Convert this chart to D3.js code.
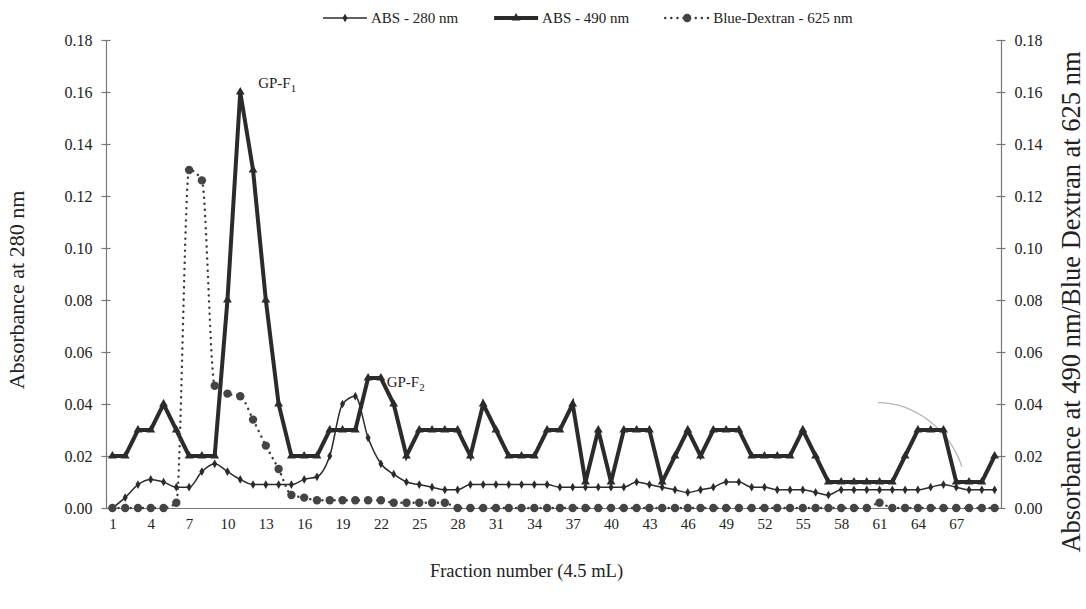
<!DOCTYPE html>
<html>
<head>
<meta charset="utf-8">
<script src="https://cdn.jsdelivr.net/npm/d3@7"></script>
<style>
  body { margin: 0; background: #fff; }
  svg { display: block; font-family: "Liberation Serif", "Times New Roman", serif; }
</style>
</head>
<body>
<svg id="chart" width="1086" height="609"></svg>
<script>
// Gel filtration profile, fractions of 4.5 mL
const fractions = d3.range(1, 71);
const xTickLabels = [1, 4, 7, 10, 13, 16, 19, 22, 25, 28, 31, 34, 37, 40, 43, 46, 49, 52, 55, 58, 61, 64, 67];
const yTicks = [0, 0.02, 0.04, 0.06, 0.08, 0.10, 0.12, 0.14, 0.16, 0.18];

const abs280 = [
    0.000, 0.004, 0.009, 0.011, 0.010, 0.008, 0.008, 0.014, 0.017, 0.014,
    0.011, 0.009, 0.009, 0.009, 0.009, 0.011, 0.012, 0.020, 0.040, 0.043,
    0.027, 0.017, 0.013, 0.010, 0.009, 0.008, 0.007, 0.007, 0.009, 0.009,
    0.009, 0.009, 0.009, 0.009, 0.009, 0.008, 0.008, 0.008, 0.008, 0.008,
    0.008, 0.010, 0.009, 0.008, 0.007, 0.006, 0.007, 0.008, 0.010, 0.010,
    0.008, 0.008, 0.007, 0.007, 0.007, 0.006, 0.005, 0.007, 0.007, 0.007,
    0.007, 0.007, 0.007, 0.007, 0.008, 0.009, 0.008, 0.007, 0.007, 0.007
];
const abs490 = [
    0.02, 0.02, 0.03, 0.03, 0.04, 0.03, 0.02, 0.02, 0.02, 0.08,
    0.16, 0.13, 0.08, 0.04, 0.02, 0.02, 0.02, 0.03, 0.03, 0.03,
    0.05, 0.05, 0.04, 0.02, 0.03, 0.03, 0.03, 0.03, 0.02, 0.04,
    0.03, 0.02, 0.02, 0.02, 0.03, 0.03, 0.04, 0.01, 0.03, 0.01,
    0.03, 0.03, 0.03, 0.01, 0.02, 0.03, 0.02, 0.03, 0.03, 0.03,
    0.02, 0.02, 0.02, 0.02, 0.03, 0.02, 0.01, 0.01, 0.01, 0.01,
    0.01, 0.01, 0.02, 0.03, 0.03, 0.03, 0.01, 0.01, 0.01, 0.02
];
const blueDextran = [
    0.000, 0.000, 0.000, 0.000, 0.000, 0.002, 0.130, 0.126, 0.047, 0.044,
    0.043, 0.034, 0.024, 0.015, 0.005, 0.004, 0.003, 0.003, 0.003, 0.003,
    0.003, 0.003, 0.002, 0.002, 0.002, 0.002, 0.002, 0.000, 0.000, 0.000,
    0.000, 0.000, 0.000, 0.000, 0.000, 0.000, 0.000, 0.000, 0.000, 0.000,
    0.000, 0.000, 0.000, 0.000, 0.000, 0.000, 0.000, 0.000, 0.000, 0.000,
    0.000, 0.000, 0.000, 0.000, 0.000, 0.000, 0.000, 0.000, 0.000, 0.000,
    0.002, 0.000, 0.000, 0.000, 0.000, 0.000, 0.000, 0.000, 0.000, 0.000
];
const seriesNames = ['ABS - 280 nm', 'ABS - 490 nm', 'Blue-Dextran - 625 nm'];
const peakLabels = [
    {text: 'GP-F', sub: '1', fraction: 12.4, value: 0.1615},
    {text: 'GP-F', sub: '2', fraction: 22.45, value: 0.0465}
];

const svg = d3.select('#chart');
const margin = {top: 40, right: 85, bottom: 101, left: 106};
const width = 1086 - margin.left - margin.right;
const height = 609 - margin.top - margin.bottom;
const g = svg.append('g').attr('transform', `translate(${margin.left},${margin.top})`);

const x = d3.scaleLinear().domain([0.5, 70.5]).range([0, width]);
const y = d3.scaleLinear().domain([0, 0.18]).range([height, 0]);

const axisColor = '#777';
const inkColor = '#2b2b2b';

function styleAxis(sel, fontSize) {
    sel.attr('font-family', null).attr('font-size', null);
    sel.select('.domain').attr('stroke', axisColor).attr('stroke-width', 1.2);
    sel.selectAll('.tick line').attr('stroke', axisColor).attr('stroke-width', 1.2);
    sel.selectAll('.tick text').style('font-size', fontSize + 'px').attr('fill', '#222');
}

// Left axis (280 nm)
const yLeft = g.append('g')
    .call(d3.axisLeft(y).tickValues(yTicks).tickFormat(d3.format('.2f'))
        .tickSize(4.5).tickSizeOuter(0).tickPadding(9));
yLeft.selectAll('.tick line').attr('x1', 4.5);
styleAxis(yLeft, 16);

// Right axis (490 nm / Blue Dextran)
const yRight = g.append('g')
    .attr('transform', `translate(${width},0)`)
    .call(d3.axisRight(y).tickValues(yTicks).tickFormat(d3.format('.2f'))
        .tickSize(4.5).tickSizeOuter(0).tickPadding(9));
yRight.selectAll('.tick line').attr('x1', -4.5);
styleAxis(yRight, 16);

// Bottom axis
const xAxis = g.append('g')
    .attr('transform', `translate(0,${height})`)
    .call(d3.axisBottom(x).tickValues(xTickLabels).tickFormat(d3.format('d'))
        .tickSize(0).tickSizeOuter(0).tickPadding(10));
styleAxis(xAxis, 15);

// Axis titles
g.append('text')
    .attr('transform', `translate(${-82},${250}) rotate(-90)`)
    .attr('text-anchor', 'middle')
    .style('font-size', '22px')
    .attr('fill', '#222')
    .text('Absorbance at 280 nm');

g.append('text')
    .attr('transform', `translate(${width + 79},${262}) rotate(-90)`)
    .attr('text-anchor', 'middle')
    .style('font-size', '26.5px')
    .attr('fill', '#222')
    .text('Absorbance at 490 nm/Blue Dextran at 625 nm');

g.append('text')
    .attr('x', width / 2 - 27)
    .attr('y', height + 69)
    .attr('text-anchor', 'middle')
    .style('font-size', '18.5px')
    .attr('fill', '#222')
    .text('Fraction number (4.5 mL)');

// Faint pencil arc from the scanned original
const arc = d3.path();
arc.moveTo(x(60.88), y(0.0405));
arc.bezierCurveTo(x(63.77), y(0.0405), x(66.5), y(0.030), x(67.45), y(0.0158));
g.append('path')
    .attr('d', arc.toString())
    .attr('fill', 'none')
    .attr('stroke', '#b5b5b5')
    .attr('stroke-width', 1.3);

// Series
const line490 = d3.line().x((d, i) => x(fractions[i])).y(d => y(d));
const line280 = d3.line().x((d, i) => x(fractions[i])).y(d => y(d)).curve(d3.curveMonotoneX);
const lineDex = d3.line().x((d, i) => x(fractions[i])).y(d => y(d)).curve(d3.curveMonotoneX);

g.append('path')
    .datum(abs490)
    .attr('d', line490)
    .attr('fill', 'none')
    .attr('stroke', inkColor)
    .attr('stroke-width', 4)
    .attr('stroke-linejoin', 'miter');

g.selectAll('.m490')
    .data(abs490)
    .join('path')
    .attr('class', 'm490')
    .attr('transform', (d, i) => `translate(${x(fractions[i])},${y(d)})`)
    .attr('d', d3.symbol(d3.symbolTriangle, 34))
    .attr('fill', inkColor);

g.append('path')
    .datum(abs280)
    .attr('d', line280)
    .attr('fill', 'none')
    .attr('stroke', inkColor)
    .attr('stroke-width', 1.5);

g.selectAll('.m280')
    .data(abs280)
    .join('path')
    .attr('class', 'm280')
    .attr('transform', (d, i) => `translate(${x(fractions[i])},${y(d)})`)
    .attr('d', d3.symbol(d3.symbolDiamond, 22))
    .attr('fill', inkColor);

g.append('path')
    .datum(blueDextran)
    .attr('d', lineDex)
    .attr('fill', 'none')
    .attr('stroke', '#3a3a3a')
    .attr('stroke-width', 2.4)
    .attr('stroke-linecap', 'round')
    .attr('stroke-dasharray', '0.1,6');

g.selectAll('.mdex')
    .data(blueDextran)
    .join('circle')
    .attr('class', 'mdex')
    .attr('cx', (d, i) => x(fractions[i]))
    .attr('cy', d => y(d))
    .attr('r', 4.2)
    .attr('fill', '#444');

// Peak labels
peakLabels.forEach(p => {
    const t = g.append('text')
        .attr('x', x(p.fraction))
        .attr('y', y(p.value))
        .style('font-size', '15px')
        .attr('fill', '#222');
    t.append('tspan').text(p.text);
    t.append('tspan').attr('dy', 4).style('font-size', '11px').text(p.sub);
});

// Legend
const legend = svg.append('g').attr('transform', 'translate(323,18)');
let lx = 0;
seriesNames.forEach((name, i) => {
    const item = legend.append('g').attr('transform', `translate(${lx},0)`);
    const ln = item.append('line')
        .attr('x1', 0).attr('x2', 44)
        .attr('stroke', i === 2 ? '#3a3a3a' : inkColor);
    if (i === 0) {
        ln.attr('stroke-width', 1.5);
        item.append('path').attr('transform', 'translate(22,0)')
            .attr('d', d3.symbol(d3.symbolDiamond, 22)).attr('fill', inkColor);
    } else if (i === 1) {
        ln.attr('stroke-width', 4);
        item.append('path').attr('transform', 'translate(22,0)')
            .attr('d', d3.symbol(d3.symbolTriangle, 34)).attr('fill', inkColor);
    } else {
        ln.attr('stroke-width', 2.4).attr('stroke-linecap', 'round').attr('stroke-dasharray', '0.1,6');
        item.append('circle').attr('cx', 22).attr('r', 4.2).attr('fill', '#444');
    }
    const txt = item.append('text')
        .attr('x', 48)
        .attr('dy', '0.35em')
        .style('font-size', '15px')
        .attr('fill', '#222')
        .text(name);
    lx += 48 + txt.node().getComputedTextLength() + 36;
});
</script>
</body>
</html>
